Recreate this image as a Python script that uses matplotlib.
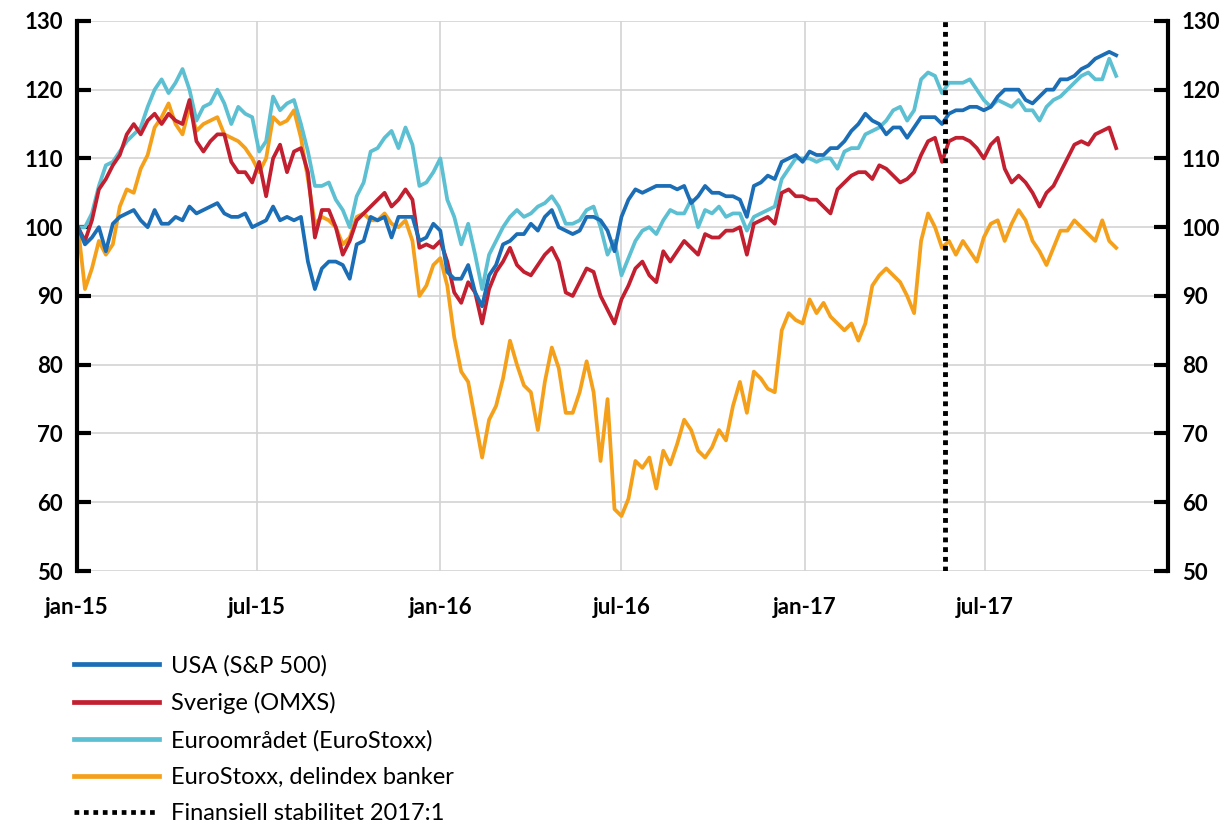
import matplotlib
matplotlib.use('Agg')
import matplotlib.pyplot as plt
from matplotlib.lines import Line2D
import pandas as pd

plt.rcParams['font.family'] = ['Lato', 'DejaVu Sans']

# weekly index values, 2 jan 2015 = 100
dates = pd.date_range('2015-01-02', periods=150, freq='W-FRI')

usa = [
    100, 97.5, 98.5, 100, 96.5, 100.5, 101.5, 102, 102.5, 101,
    100, 102.5, 100.5, 100.5, 101.5, 101, 103, 102, 102.5, 103,
    103.5, 102, 101.5, 101.5, 102, 100, 100.5, 101, 103, 101,
    101.5, 101, 101.5, 95, 91, 94, 95, 95, 94.5, 92.5,
    97.5, 98, 101.5, 101, 101.5, 98.5, 101.5, 101.5, 101.5, 98,
    98.5, 100.5, 99.5, 93.5, 92.5, 92.5, 94.5, 90.5, 88.5, 93,
    94.5, 97.5, 98, 99, 99, 100.5, 99.5, 101.5, 102.5, 100,
    99.5, 99, 99.5, 101.5, 101.5, 101, 99.5, 96.5, 101.5, 104,
    105.5, 105, 105.5, 106, 106, 106, 105.5, 106, 103.5, 104.5,
    106, 105, 105, 104.5, 104.5, 104, 101.5, 106, 106.5, 107.5,
    107, 109.5, 110, 110.5, 109.5, 111, 110.5, 110.5, 111.5, 111.5,
    112.5, 114, 115, 116.5, 115.5, 115, 113.5, 114.5, 114.5, 113,
    114.5, 116, 116, 116, 115, 116.5, 117, 117, 117.5, 117.5,
    117, 117.5, 119, 120, 120, 120, 118.5, 118, 119, 120,
    120, 121.5, 121.5, 122, 123, 123.5, 124.5, 125, 125.5, 125,
]

sverige = [
    100, 98, 101, 105.5, 107, 109, 110.5, 113.5, 115, 113.5,
    115.5, 116.5, 115, 116.5, 115.5, 115, 118.5, 112.5, 111, 112.5,
    113.5, 113.5, 109.5, 108, 108, 106.5, 109.5, 104.5, 110, 112,
    108, 111, 111.5, 108, 98.5, 102.5, 102.5, 100, 96, 98,
    101, 102, 103, 104, 105, 103, 104, 105.5, 104, 97,
    97.5, 97, 98, 95, 90.5, 89, 92, 90.5, 86, 91,
    93.5, 95, 97, 94.5, 93.5, 93, 94.5, 96, 97, 95,
    90.5, 90, 92, 94, 93.5, 90, 88, 86, 89.5, 91.5,
    94, 95, 93, 92, 96.5, 95, 96.5, 98, 97, 96,
    99, 98.5, 98.5, 99.5, 99.5, 100, 96, 100.5, 101, 101.5,
    100.5, 105, 105.5, 104.5, 104.5, 104, 104, 103, 102, 105.5,
    106.5, 107.5, 108, 108, 107, 109, 108.5, 107.5, 106.5, 107,
    108, 110.5, 112.5, 113, 109.5, 112.5, 113, 113, 112.5, 111.5,
    110, 112, 113, 108.5, 106.5, 107.5, 106.5, 105, 103, 105,
    106, 108, 110, 112, 112.5, 112, 113.5, 114, 114.5, 111.5,
]

euro = [
    100, 100, 102, 106, 109, 109.5, 111, 112.5, 113.5, 114.5,
    117.5, 120, 121.5, 119.5, 121, 123, 120, 115.5, 117.5, 118,
    120, 118, 115, 117.5, 116.5, 116, 111, 112.5, 119, 117,
    118, 118.5, 115, 111, 106, 106, 106.5, 104, 102.5, 100,
    104.5, 106.5, 111, 111.5, 113, 114, 111.5, 114.5, 112, 106,
    106.5, 108, 110, 104, 101.5, 97.5, 100.5, 96, 91, 96,
    98, 100, 101.5, 102.5, 101.5, 102, 103, 103.5, 104.5, 103,
    100.5, 100.5, 101, 102.5, 103, 100, 96, 98, 93, 95.5,
    98, 99.5, 100, 99, 101, 102.5, 102, 102, 104, 100,
    102.5, 102, 103, 101.5, 102, 102, 99.5, 101.5, 102, 102.5,
    103, 107, 108.5, 110, 110, 110, 109.5, 110, 110, 108.5,
    111, 111.5, 111.5, 113.5, 114, 114.5, 115.5, 117, 117.5, 115.5,
    117, 121.5, 122.5, 122, 119.5, 121, 121, 121, 121.5, 120,
    118.5, 117.5, 118.5, 118, 117.5, 118.5, 117, 117, 115.5, 117.5,
    118.5, 119, 120, 121, 122, 122.5, 121.5, 121.5, 124.5, 122,
]

banker = [
    100, 91, 94, 98, 96, 97.5, 103, 105.5, 105, 108.5,
    110.5, 114.5, 116, 118, 115, 113.5, 117.5, 114, 115, 115.5,
    116, 113.5, 113, 112.5, 111.5, 110, 108, 110, 116, 115,
    115.5, 117, 113, 107, 100.5, 101.5, 101, 100, 97.5, 98.5,
    101.5, 102, 101, 101, 102, 100.5, 100, 101, 98, 90,
    91.5, 94.5, 95.5, 91.5, 84, 79, 77.5, 72, 66.5, 72,
    74, 78, 83.5, 80, 77, 76, 70.5, 77.5, 82.5, 79.5,
    73, 73, 76, 80.5, 76, 66, 75, 59, 58, 60.5,
    66, 65, 66.5, 62, 67.5, 65.5, 68.5, 72, 70.5, 67.5,
    66.5, 68, 70.5, 69, 74, 77.5, 73, 79, 78, 76.5,
    76, 85, 87.5, 86.5, 86, 89.5, 87.5, 89, 87, 86,
    85, 86, 83.5, 86, 91.5, 93, 94, 93, 92, 90,
    87.5, 98, 102, 100, 97, 98, 96, 98, 96.5, 95,
    98.5, 100.5, 101, 98, 100.5, 102.5, 101, 98, 96.5, 94.5,
    97, 99.5, 99.5, 101, 100, 99, 98, 101, 98, 97,
]

fs_date = pd.Timestamp('2017-05-22')
labels = ['USA (S&P 500)', 'Sverige (OMXS)', 'Euroområdet (EuroStoxx)',
          'EuroStoxx, delindex banker', 'Finansiell stabilitet 2017:1']
colors = ['#1B6EB6', '#C21F30', '#5CC0D2', '#F5A01B']
xticks = pd.date_range('2015-01-01', '2017-07-01', freq='6MS')
xticklabels = ['jan-15', 'jul-15', 'jan-16', 'jul-16', 'jan-17', 'jul-17']

fig = plt.figure(figsize=(12.32, 8.26), dpi=100)
ax = fig.add_axes([0.0625, 0.3087, 0.8855, 0.666])

lw = 2.7
# draw order: banks at bottom, USA on top
ax.plot(dates, banker, color=colors[3], lw=lw)
ax.plot(dates, euro, color=colors[2], lw=lw)
ax.plot(dates, sverige, color=colors[1], lw=lw)
ax.plot(dates, usa, color=colors[0], lw=lw)
ax.axvline(fs_date, color='black', lw=3.5, linestyle=(0, (1, 1)))

ax.set_xlim(pd.Timestamp('2015-01-01'), pd.Timestamp('2018-01-01'))
ax.set_ylim(50, 130)
ax.set_yticks(range(50, 131, 10))
ax.set_xticks(xticks)
ax.set_xticklabels(xticklabels)

ax.grid(True, color='#D3D3D3', lw=1.2)
ax.set_axisbelow(True)
for s in ['top', 'bottom']:
    ax.spines[s].set_visible(False)
for s in ['left', 'right']:
    ax.spines[s].set_linewidth(3)
    ax.spines[s].set_color('black')

ax.tick_params(axis='y', direction='in', length=10, width=3, left=True, right=True,
               labelleft=True, labelright=True, labelsize=16, pad=10)
ax.tick_params(axis='x', length=0, labelsize=16, pad=19)
for t in ax.get_xticklabels():
    t.set_fontweight('bold')
for tick in ax.yaxis.get_major_ticks():
    tick.label1.set_fontweight('bold')
    tick.label2.set_fontweight('bold')

# legend below the chart
handles = [Line2D([], [], color=c, lw=3.4) for c in colors]
handles.append(Line2D([], [], color='black', lw=3.4, linestyle=(0, (1, 1))))
fig.legend(handles, labels, loc='upper left', bbox_to_anchor=(0.06, 0.207),
           frameon=False, fontsize=17, handlelength=3.6, handletextpad=0.5,
           labelspacing=0.66, borderpad=0, borderaxespad=0)

plt.savefig('out.png', dpi=100)
